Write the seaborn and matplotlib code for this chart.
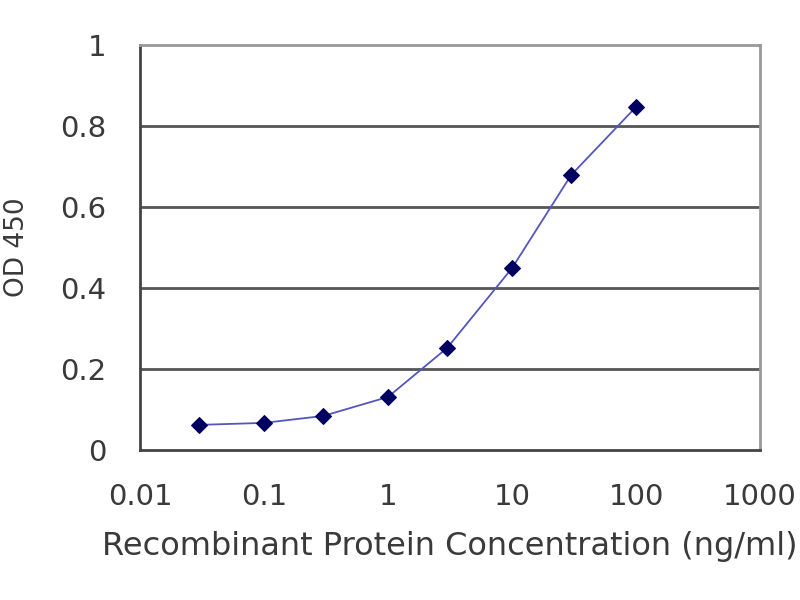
import numpy as np
import pandas as pd
import matplotlib
matplotlib.use("Agg")
import matplotlib.pyplot as plt
import seaborn as sns

# koncentracije i OD vrijednosti
concentration = [0.03, 0.1, 0.3, 1, 3, 10, 30, 100]
od450 = [0.062, 0.067, 0.084, 0.131, 0.252, 0.449, 0.679, 0.847]
x_ticks = [0.01, 0.1, 1, 10, 100, 1000]
x_tick_labels = ["0.01", "0.1", "1", "10", "100", "1000"]
y_ticks = [0, 0.2, 0.4, 0.6, 0.8, 1]
y_tick_labels = ["0", "0.2", "0.4", "0.6", "0.8", "1"]

df = pd.DataFrame({"conc": concentration, "od": od450})

sns.set_style("white")
plt.rcParams["font.family"] = ["DejaVu Sans"]

fig = plt.figure(figsize=(8, 6), dpi=100)
ax = fig.add_axes([0.175, 0.25, 0.775, 0.675])

sns.lineplot(data=df, x="conc", y="od", color="#5555c0", linewidth=1.3,
             marker="D", markersize=8, markerfacecolor="#000060",
             markeredgecolor="#000060", ax=ax)

ax.set_xscale("log")
ax.set_xlim(0.01, 1000)
ax.set_ylim(0, 1)
ax.set_xticks(x_ticks)
ax.set_xticklabels(x_tick_labels)
ax.minorticks_off()
ax.set_yticks(y_ticks)
ax.set_yticklabels(y_tick_labels)

for y in y_ticks[1:-1]:
    ax.axhline(y, color="#555555", linewidth=2, zorder=0)

for side in ["left", "bottom"]:
    ax.spines[side].set_color("#444444")
    ax.spines[side].set_linewidth(2)
for side in ["top", "right"]:
    ax.spines[side].set_color("#999999")
    ax.spines[side].set_linewidth(2)

ax.tick_params(axis="x", direction="in", length=5, width=1.5, color="#444444",
               labelsize=21, labelcolor="#3a3a3a", pad=24)
ax.tick_params(axis="y", length=0, labelsize=21, labelcolor="#3a3a3a", pad=24)

ax.set_xlabel("Recombinant Protein Concentration (ng/ml)", fontsize=23,
              color="#3a3a3a", labelpad=14)
ax.set_ylabel("OD 450", fontsize=19, color="#3a3a3a", labelpad=22)

fig.savefig("out.png", dpi=100)
